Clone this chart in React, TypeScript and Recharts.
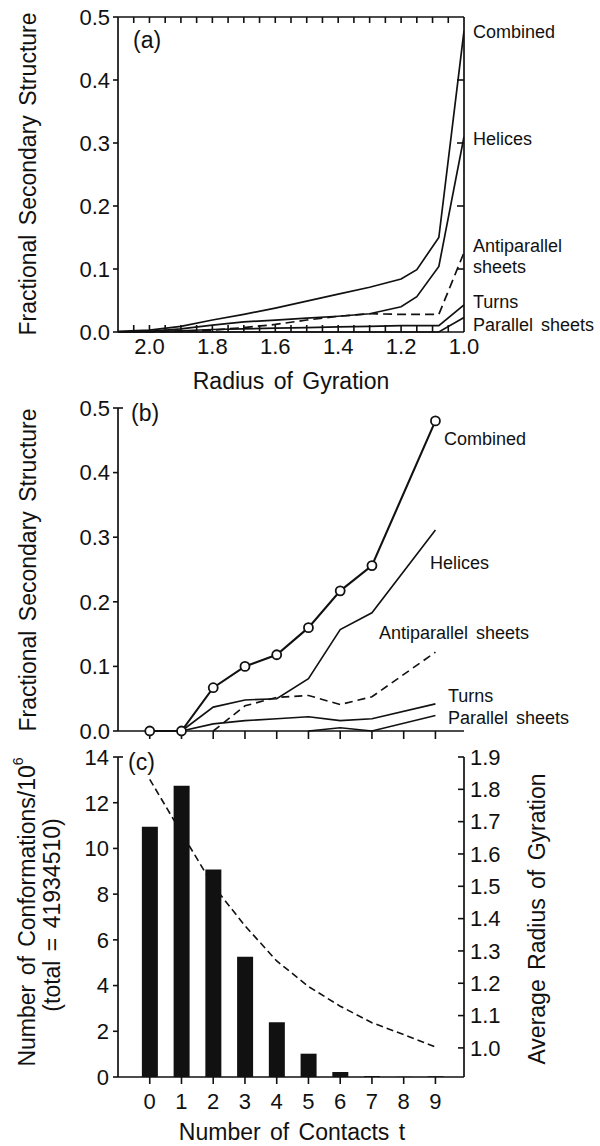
import React from 'react';
import { LineChart, Line, XAxis, YAxis, ComposedChart, Bar } from 'recharts';

// ---------- Panel (a): fractional secondary structure vs radius of gyration ----------
const radius = [2.1, 2.0, 1.9, 1.8, 1.7, 1.6, 1.5, 1.4, 1.3, 1.2, 1.15, 1.08, 1.0];
const aCombined = [0.001, 0.003, 0.009, 0.019, 0.028, 0.038, 0.049, 0.06, 0.071, 0.084, 0.099, 0.15, 0.478];
const aHelices = [0.0, 0.001, 0.005, 0.011, 0.016, 0.019, 0.022, 0.025, 0.029, 0.04, 0.056, 0.104, 0.31];
const aAntiparallel = [0, 0, 0.001, 0.003, 0.007, 0.012, 0.019, 0.025, 0.029, 0.028, 0.028, 0.028, 0.126];
const aTurns = [0, 0.001, 0.002, 0.004, 0.005, 0.006, 0.007, 0.008, 0.009, 0.01, 0.01, 0.01, 0.043];
const aParallel = [0, 0, 0, 0, 0, 0, 0, 0, 0, 0, 0, 0, 0.023];
const aMajorTicks = [2.0, 1.8, 1.6, 1.4, 1.2, 1.0];
const aAllTicks = [2.05, 2.0, 1.95, 1.9, 1.85, 1.8, 1.75, 1.7, 1.65, 1.6, 1.55, 1.5, 1.45, 1.4, 1.35, 1.3, 1.25, 1.2, 1.15, 1.1, 1.05, 1.0];
const fracTicks = [0, 0.1, 0.2, 0.3, 0.4, 0.5];

// ---------- Panel (b): fractional secondary structure vs number of contacts ----------
const contacts = [0, 1, 2, 3, 4, 5, 6, 7, 8, 9];
const bCombined = [0, 0, 0.067, 0.1, 0.118, 0.16, 0.217, 0.256, null, 0.48];
const bHelices = [null, 0, 0.037, 0.048, 0.05, 0.081, 0.157, 0.183, null, 0.311];
const bAntiparallel = [null, null, 0, 0.039, 0.052, 0.055, 0.041, 0.053, null, 0.122];
const bTurns = [null, 0, 0.011, 0.016, 0.019, 0.022, 0.016, 0.019, null, 0.042];
const bParallel = [null, null, null, null, null, 0, 0.005, 0, null, 0.024];

// ---------- Panel (c): number of conformations and average radius ----------
const conformations = [10.95, 12.74, 9.08, 5.26, 2.39, 1.02, 0.22, 0.04, 0.01, 0.03];
const avgRadius = [1.831, 1.665, 1.502, 1.378, 1.269, 1.19, 1.129, 1.078, 1.041, 1.003];
const confTicks = [0, 2, 4, 6, 8, 10, 12, 14];
const radTicks = [1.0, 1.1, 1.2, 1.3, 1.4, 1.5, 1.6, 1.7, 1.8, 1.9];

const FONT = "'Liberation Sans', Arial, Helvetica, sans-serif";
const INK = '#111';
const AX = { stroke: INK, strokeWidth: 1.7 };
const TL = { stroke: INK, strokeWidth: 1.6 };
const TICK = { fill: INK, fontSize: 22, fontFamily: FONT };
const NoTick = () => <g />;

// panel (a) plot geometry (from chart height and margins)
const A_H = 400;
const A_M = { top: 17, right: 136, bottom: 67, left: 117 };
const A_PLOT_H = A_H - A_M.top - A_M.bottom - 1;

const dataA = radius.map((r, i) => ({
  r,
  combined: aCombined[i],
  helices: aHelices[i],
  anti: aAntiparallel[i],
  turns: aTurns[i],
  parallel: aParallel[i],
}));

const dataB = contacts.map((t, i) => ({
  t,
  combined: bCombined[i],
  helices: bHelices[i],
  anti: bAntiparallel[i],
  turns: bTurns[i],
  parallel: bParallel[i],
}));

const dataC = contacts.map((t, i) => ({ t, count: conformations[i], rg: avgRadius[i] }));

const f1 = (v: number) => v.toFixed(1);

// bottom-axis tick of panel (a): inward minor tick at bottom and top frame, label on majors
function ATick(props: any) {
  const { x, y, payload } = props;
  const v = payload.value as number;
  const top = y - A_PLOT_H;
  return (
    <g>
      {v !== 1.0 && <line x1={x} x2={x} y1={y} y2={y - 7} stroke={INK} strokeWidth={1.6} />}
      {v !== 1.0 && <line x1={x} x2={x} y1={top} y2={top + 6} stroke={INK} strokeWidth={1.6} />}
      {aMajorTicks.includes(v) && (
        <text x={x} y={y + 6} dy="0.71em" textAnchor="middle" fontSize={22} fontFamily={FONT} fill={INK}>
          {f1(v)}
        </text>
      )}
    </g>
  );
}

function T(props: any) {
  const { x, y, children, size = 18, rotate, anchor = 'start', ws = 3 } = props;
  return (
    <text
      x={x}
      y={y}
      fontSize={size}
      fontFamily={FONT}
      fill={INK}
      textAnchor={anchor}
      dominantBaseline="central"
      style={{ wordSpacing: ws }}
      transform={rotate ? `rotate(${rotate} ${x} ${y})` : undefined}
    >
      {children}
    </text>
  );
}

function PanelA() {
  return (
    <LineChart width={600} height={A_H} data={dataA} margin={A_M}>
      <XAxis dataKey="r" type="number" domain={[1.0, 2.1]} reversed ticks={aAllTicks} interval={0}
        height={1} tickLine={false} tickSize={0} tickMargin={0} axisLine={AX} tick={ATick} allowDataOverflow />
      <XAxis xAxisId="top" orientation="top" type="number" domain={[1.0, 2.1]} reversed ticks={[]}
        tick={NoTick} tickLine={false} axisLine={AX} height={1} mirror allowDataOverflow />
      <YAxis type="number" domain={[0, 0.5]} ticks={fracTicks} interval={0} tickFormatter={f1} width={1}
        tickSize={5} tickMargin={3} axisLine={AX} tickLine={TL} tick={TICK} />
      <YAxis yAxisId="right" dataKey="combined" orientation="right" type="number" domain={[0, 0.5]} ticks={[0.1, 0.2, 0.3, 0.4]} interval={0}
        mirror tick={NoTick} tickSize={7} axisLine={AX} tickLine={TL} width={1} allowDataOverflow />
      <Line dataKey="combined" type="linear" stroke={INK} strokeWidth={1.7} dot={false} isAnimationActive={false} />
      <Line dataKey="helices" type="linear" stroke={INK} strokeWidth={1.7} dot={false} isAnimationActive={false} />
      <Line dataKey="anti" type="linear" stroke={INK} strokeWidth={1.7} strokeDasharray="9 5" dot={false} isAnimationActive={false} />
      <Line dataKey="turns" type="linear" stroke={INK} strokeWidth={1.7} dot={false} isAnimationActive={false} />
      <Line dataKey="parallel" type="linear" stroke={INK} strokeWidth={1.7} dot={false} isAnimationActive={false} />
    </LineChart>
  );
}

function PanelB() {
  return (
    <LineChart width={600} height={360} data={dataB} margin={{ top: 18, right: 136, bottom: 18, left: 117 }}>
      <XAxis dataKey="t" type="number" domain={[-1, 9.9]} ticks={contacts} interval={0} height={1}
        tick={NoTick} tickSize={8} axisLine={AX} tickLine={TL} allowDataOverflow />
      <YAxis type="number" domain={[0, 0.5]} ticks={fracTicks} interval={0} tickFormatter={f1} width={1}
        tickSize={5} tickMargin={3} axisLine={AX} tickLine={TL} tick={TICK} />
      <YAxis yAxisId="hook" dataKey="combined" type="number" domain={[0, 0.5]} ticks={[0.5]} interval={0} width={1}
        mirror tick={NoTick} tickSize={5} axisLine={false} tickLine={TL} allowDataOverflow />
      <Line dataKey="helices" type="linear" stroke={INK} strokeWidth={1.6} dot={false} connectNulls isAnimationActive={false} />
      <Line dataKey="anti" type="linear" stroke={INK} strokeWidth={1.6} strokeDasharray="8 5" dot={false} connectNulls isAnimationActive={false} />
      <Line dataKey="turns" type="linear" stroke={INK} strokeWidth={1.6} dot={false} connectNulls isAnimationActive={false} />
      <Line dataKey="parallel" type="linear" stroke={INK} strokeWidth={1.6} dot={false} connectNulls isAnimationActive={false} />
      <Line dataKey="combined" type="linear" stroke={INK} strokeWidth={2.1}
        dot={{ r: 4.5, fill: '#fff', stroke: INK, strokeWidth: 1.8 }} connectNulls isAnimationActive={false} />
    </LineChart>
  );
}

function PanelC() {
  return (
    <ComposedChart width={600} height={406} data={dataC} margin={{ top: 17, right: 135, bottom: 68, left: 117 }}>
      <XAxis dataKey="t" type="number" domain={[-1, 9.9]} ticks={contacts} interval={0} height={1}
        tickSize={7} tickMargin={9} axisLine={AX} tickLine={TL} tick={TICK} allowDataOverflow />
      <YAxis type="number" domain={[0, 14]} ticks={confTicks} interval={0} width={1}
        tickSize={5} tickMargin={4} axisLine={AX} tickLine={TL} tick={TICK} />
      <YAxis yAxisId="hookL" dataKey="count" type="number" domain={[0, 14]} ticks={[14]} interval={0} width={1}
        mirror tick={NoTick} tickSize={5} axisLine={false} tickLine={TL} allowDataOverflow />
      <YAxis yAxisId="r" orientation="right" type="number" domain={[0.91, 1.9]} ticks={radTicks} interval={0}
        tickFormatter={f1} width={1} tickSize={0} tickMargin={6} axisLine={AX} tickLine={false} tick={TICK} allowDataOverflow />
      <YAxis yAxisId="rTicks" dataKey="rg" orientation="right" type="number" domain={[0.91, 1.9]} ticks={radTicks} interval={0}
        width={1} mirror tick={NoTick} tickSize={6} axisLine={false} tickLine={TL} allowDataOverflow />
      <Line yAxisId="r" dataKey="rg" type="linear" stroke={INK} strokeWidth={1.6} strokeDasharray="7 4"
        dot={false} isAnimationActive={false} zIndex={250} />
      <Bar dataKey="count" fill={INK} barSize={16} isAnimationActive={false} />
    </ComposedChart>
  );
}

export default function App() {
  const abs: React.CSSProperties = { position: 'absolute', left: 0 };
  return (
    <div style={{ position: 'absolute', left: 0, top: 0, width: 600, height: 1146, background: '#fff', overflow: 'hidden' }}>
      <div style={{ ...abs, top: 0 }}><PanelA /></div>
      <div style={{ ...abs, top: 390 }}><PanelB /></div>
      <div style={{ ...abs, top: 740 }}><PanelC /></div>
      <svg width={600} height={1146} style={{ position: 'absolute', left: 0, top: 0, pointerEvents: 'none' }}>
        {/* Panel (a) */}
        <T x={28} y={174} size={23} rotate={-90} anchor="middle">Fractional Secondary Structure</T>
        <T x={291} y={381} size={23} anchor="middle">Radius of Gyration</T>
        <T x={133} y={40} size={23}>(a)</T>
        <T x={473} y={32}>Combined</T>
        <T x={473} y={139}>Helices</T>
        <T x={473} y={246}>Antiparallel</T>
        <T x={473} y={267}>sheets</T>
        <T x={473} y={302}>Turns</T>
        <T x={473} y={325}>Parallel sheets</T>
        {/* Panel (b) */}
        <T x={28} y={570} size={23} rotate={-90} anchor="middle">Fractional Secondary Structure</T>
        <T x={131} y={413} size={23}>(b)</T>
        <T x={444} y={439}>Combined</T>
        <T x={430} y={563}>Helices</T>
        <T x={379} y={633}>Antiparallel sheets</T>
        <T x={448} y={696}>Turns</T>
        <T x={448} y={718}>Parallel sheets</T>
        {/* Panel (c) */}
        <T x={128} y={762} size={23}>(c)</T>
        <text x={27} y={912} fontSize={23} fontFamily={FONT} fill={INK} textAnchor="middle" dominantBaseline="central"
          style={{ wordSpacing: 3 }} transform="rotate(-90 27 912)">
          Number of Conformations/10<tspan dy={-9} fontSize={14}>6</tspan>
        </text>
        <T x={52} y={915} size={23} rotate={-90} anchor="middle">(total = 41934510)</T>
        <T x={537} y={919} size={23} rotate={-90} anchor="middle">Average Radius of Gyration</T>
        <T x={292} y={1132} size={23} anchor="middle">Number of Contacts t</T>
      </svg>
    </div>
  );
}
